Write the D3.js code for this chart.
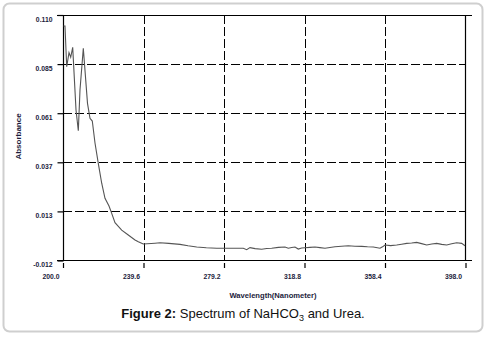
<!DOCTYPE html>
<html>
<head>
<meta charset="utf-8">
<script src="https://cdn.jsdelivr.net/npm/d3@7"></script>
<style>
html,body{margin:0;padding:0;background:#fff;}
svg{display:block;font-family:Arial,"Liberation Sans",sans-serif;}
</style>
</head>
<body>
<svg id="chart" width="487" height="342"></svg>
<script>
// ---- data ----
const wavelength = [200.25,200.98,201.82,202.95,203.79,204.77,206.4,207.53,208.36,209.99,212.05,213.28,214.41,215.74,217.36,219.04,220.66,222.63,223.96,225.58,228.87,232.12,235.42,237.04,239.5,245.26,247.72,252.0,257.55,261.5,265.77,270.5,275.61,282.0,288.69,290.36,291.99,294.5,297.74,300.2,302.66,306.0,309.2,310.83,312.5,314.12,315.74,317.4,319.04,321.5,323.96,326.4,328.88,331.3,333.8,337.0,340.34,343.6,346.93,349.8,352.64,355.93,357.2,358.39,361.2,364.15,366.6,369.07,371.5,373.99,376.4,378.91,381.4,383.83,386.3,388.75,391.2,393.66,396.12,397.75];
const absorbance = [0.1045,0.1045,0.0843,0.0913,0.0890,0.0939,0.0628,0.0525,0.0727,0.0935,0.0661,0.0587,0.0573,0.0464,0.0363,0.0264,0.0189,0.0151,0.0114,0.0068,0.0031,0.0007,-0.0018,-0.0027,-0.0038,-0.0034,-0.0032,-0.0035,-0.0040,-0.0047,-0.0053,-0.0057,-0.0059,-0.0059,-0.0059,-0.0066,-0.0056,-0.0061,-0.0064,-0.0060,-0.0059,-0.0055,-0.0053,-0.0059,-0.0055,-0.0053,-0.0063,-0.0058,-0.0057,-0.0055,-0.0053,-0.0056,-0.0059,-0.0055,-0.0052,-0.0049,-0.0047,-0.0049,-0.0050,-0.0052,-0.0053,-0.0059,-0.0052,-0.0043,-0.0046,-0.0043,-0.0039,-0.0035,-0.0033,-0.0030,-0.0036,-0.0043,-0.0038,-0.0035,-0.0040,-0.0043,-0.0037,-0.0032,-0.0035,-0.0047];
const xTicks = [200.0,239.6,279.2,318.8,358.4,398.0];
const yTicks = [-0.012,0.0124,0.0368,0.0612,0.0856,0.110];
const yTickLabels = ["-0.012","0.013","0.037","0.061","0.085","0.110"];
const xTitle = "Wavelength(Nanometer)";
const yTitle = "Absorbance";

// ---- layout ----
const svg = d3.select("#chart");
const L = 63, R = 465.5, T = 15, B = 260.5;
const x = d3.scaleLinear().domain([200, 398]).range([L, R]);
const y = d3.scaleLinear().domain([-0.012, 0.110]).range([B, T]);

// outer frame
svg.append("rect").attr("x",3.5).attr("y",3.5).attr("width",479).attr("height",328)
  .attr("rx",6).attr("fill","none").attr("stroke","#cfcfcf").attr("stroke-width",2);

// gridlines
const g = svg.append("g");
g.selectAll(".hg").data(yTicks.slice(1,-1)).join("line")
  .attr("x1",L).attr("x2",R).attr("y1",d=>Math.round(y(d))+0.5).attr("y2",d=>Math.round(y(d))+0.5)
  .attr("stroke","#000").attr("stroke-width",1).attr("stroke-dasharray","9,3");
g.selectAll(".vg").data(xTicks.slice(1,-1)).join("line")
  .attr("y1",T).attr("y2",B).attr("x1",d=>Math.round(x(d))+0.5).attr("x2",d=>Math.round(x(d))+0.5)
  .attr("stroke","#000").attr("stroke-width",1).attr("stroke-dasharray","9,3");

// frame lines
const fl = [[57,T+0.5,472,T+0.5],[57,B,472,B],[L+0.5,T,L+0.5,B],[R,T,R,B]];
g.selectAll(".fl").data(fl).join("line")
  .attr("x1",d=>d[0]).attr("y1",d=>d[1]).attr("x2",d=>d[2]).attr("y2",d=>d[3])
  .attr("stroke","#000").attr("stroke-width",1.2);

// y axis
const yAxis = d3.axisLeft(y).tickValues(yTicks).tickFormat((d,i)=>yTickLabels[i]).tickSize(6).tickPadding(5);
const ya = svg.append("g").attr("transform",`translate(${L+0.5},0)`).call(yAxis);
ya.select(".domain").remove();
ya.selectAll(".tick line").attr("stroke","#000").attr("stroke-width",1.2);
ya.selectAll(".tick text").attr("font-size",6.8).attr("font-weight","bold").attr("fill","#1c1c3c")
  .attr("font-family","Arial,'Liberation Sans',sans-serif").attr("dy","0.32em").attr("transform","translate(0,4)");

// x axis
const xAxis = d3.axisBottom(x).tickValues(xTicks).tickFormat(d3.format(".1f")).tickSize(5);
const xa = svg.append("g").attr("transform",`translate(0,${B+2.5})`).call(xAxis);
xa.select(".domain").remove();
xa.selectAll(".tick line").attr("stroke","#000").attr("stroke-width",1.2);
xa.selectAll(".tick text").attr("font-size",6.8).attr("font-weight","bold").attr("fill","#1c1c3c")
  .attr("font-family","Arial,'Liberation Sans',sans-serif")
  .attr("text-anchor","end").attr("x",-4).attr("y",14).attr("dy","0.32em");

// curve
const line = d3.line().x(d=>x(d[0])).y(d=>y(d[1]));
svg.append("path").datum(wavelength.map((w,i)=>[w,absorbance[i]]))
  .attr("d",line).attr("fill","none").attr("stroke","#555").attr("stroke-width",1.1);

// titles
svg.append("text").attr("x",273).attr("y",297.5).attr("text-anchor","middle")
  .attr("font-size",7.6).attr("font-weight","bold").attr("fill","#1c1c3c").text(xTitle);
svg.append("text").attr("transform","translate(20.5,136.5) rotate(-90)").attr("text-anchor","middle")
  .attr("font-size",8).attr("font-weight","bold").attr("fill","#1c1c3c").text(yTitle);

// caption
const cap = svg.append("text").attr("x",243).attr("y",318).attr("text-anchor","middle")
  .attr("font-size",13).attr("fill","#111");
cap.append("tspan").attr("font-weight","bold").text("Figure 2:");
cap.append("tspan").text(" Spectrum of NaHCO");
cap.append("tspan").attr("font-size",9).attr("dy",3).text("3");
cap.append("tspan").attr("dy",-3).text(" and Urea.");
</script>
</body>
</html>
